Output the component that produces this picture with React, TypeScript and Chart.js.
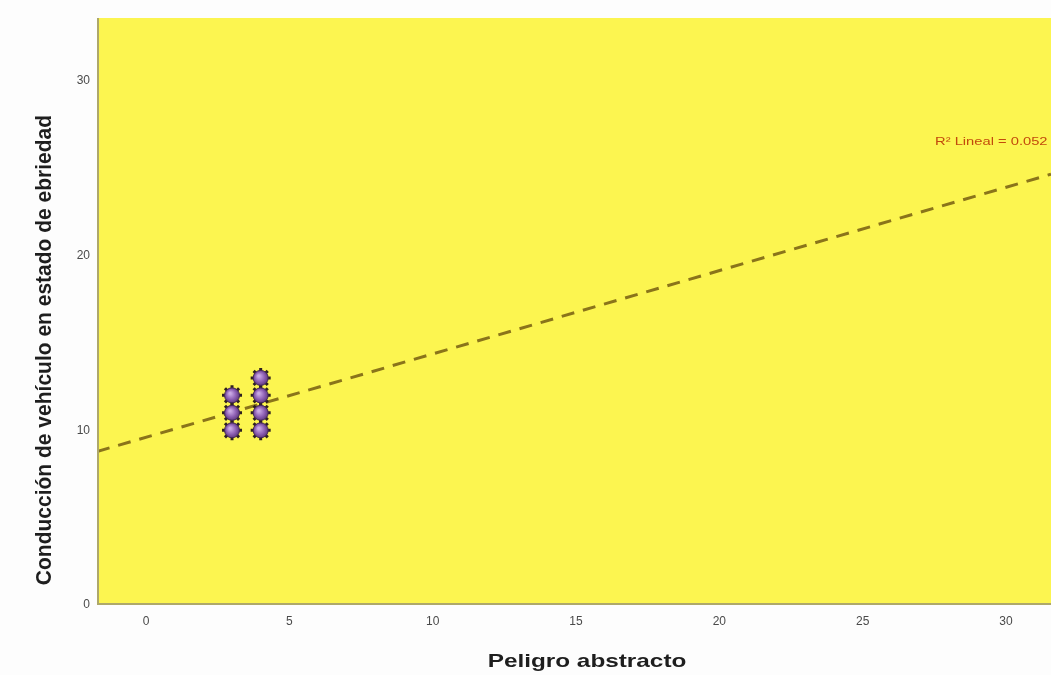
import React, { useEffect, useRef } from "react";
import { Chart, registerables } from "chart.js";

Chart.register(...registerables);

// Observations: Peligro abstracto (x) vs. Conducción de vehículo en estado de ebriedad (y)
const xValues = [3, 3, 3, 4, 4, 4, 4];
const yValues = [10, 11, 12, 10, 11, 12, 13];

// Linear fit shown as a dashed reference line
const fitIntercept = 9.6;
const fitSlope = 0.477;
const fitLabel = "R² Lineal = 0.052";

const xRange = [-1.71, 31.57];
const yRange = [0, 33.6];
const xTickValues = [0, 5, 10, 15, 20, 25, 30];
const yTickValues = [0, 10, 20, 30];

const xTitle = "Peligro abstracto";
const yTitle = "Conducción de vehículo en estado de ebriedad";

const FONT = "Arial, 'Liberation Sans', sans-serif";
const STRETCH = 1.28;

const decorations = {
  id: "decorations",
  beforeDraw(chart: any) {
    const { ctx, chartArea } = chart;
    ctx.save();
    ctx.fillStyle = "#FCF550";
    ctx.fillRect(chartArea.left, chartArea.top, chartArea.right - chartArea.left, chartArea.bottom - chartArea.top);
    ctx.restore();
  },
  afterDatasetsDraw(chart: any) {
    const { ctx, chartArea } = chart;
    const xs = chart.scales.x;
    const ys = chart.scales.y;
    ctx.save();
    // axis frame: left and bottom
    ctx.strokeStyle = "#AEA86A";
    ctx.lineWidth = 2;
    ctx.beginPath();
    ctx.moveTo(chartArea.left + 1, chartArea.top);
    ctx.lineTo(chartArea.left + 1, chartArea.bottom - 1);
    ctx.lineTo(chartArea.right, chartArea.bottom - 1);
    ctx.stroke();

    // fit label
    ctx.fillStyle = "#C24A0C";
    ctx.font = `11.5px ${FONT}`;
    ctx.textAlign = "right";
    ctx.textBaseline = "middle";
    ctx.translate(xs.getPixelForValue(31.45), ys.getPixelForValue(26.5));
    ctx.scale(STRETCH, 1);
    ctx.fillText(fitLabel, 0, 0);
    ctx.restore();

    // axis titles
    ctx.save();
    ctx.fillStyle = "#1E1E1E";
    ctx.textAlign = "center";
    ctx.textBaseline = "middle";
    ctx.font = `bold 19px ${FONT}`;
    ctx.translate(587, 662);
    ctx.scale(STRETCH, 1);
    ctx.fillText(xTitle, 0, 0);
    ctx.restore();

    ctx.save();
    ctx.fillStyle = "#1E1E1E";
    ctx.textAlign = "center";
    ctx.textBaseline = "middle";
    ctx.font = `bold 21px ${FONT}`;
    ctx.translate(45, 350);
    ctx.scale(STRETCH * 0.8, 1);
    ctx.rotate(-Math.PI / 2);
    ctx.fillText(yTitle, 0, 0);
    ctx.restore();
  },
};

export default function App() {
  const canvasRef = useRef<HTMLCanvasElement | null>(null);

  useEffect(() => {
    if (!canvasRef.current) return;
    const points = xValues.map((x, i) => ({ x, y: yValues[i] }));
    const fitLine = xRange.map((x) => ({ x, y: fitIntercept + fitSlope * x }));

    const ballFill = (c: any) => {
      const chart = c.chart;
      const raw = c.raw;
      const plain = "#8E60B4";
      if (!raw || !chart.scales || !chart.scales.x || !chart.scales.y) return plain;
      const px = chart.scales.x.getPixelForValue(raw.x);
      const py = chart.scales.y.getPixelForValue(raw.y);
      if (!Number.isFinite(px) || !Number.isFinite(py)) return plain;
      const g = chart.ctx.createRadialGradient(px - 2, py - 2, 1, px, py, 8);
      g.addColorStop(0, "#C9A8E4");
      g.addColorStop(0.55, "#8E60B4");
      g.addColorStop(1, "#5A3578");
      return g;
    };

    const chart = new Chart(canvasRef.current, {
      type: "scatter",
      data: {
        datasets: [
          {
            type: "line",
            data: fitLine,
            borderColor: "#8A741A",
            borderWidth: 3,
            borderDash: [13, 9],
            pointRadius: 0,
            fill: false,
            order: 3,
          } as any,
          {
            data: points,
            pointStyle: "star",
            pointRadius: 10,
            borderColor: "#2E2020",
            borderWidth: 3,
            backgroundColor: "#2E2020",
            order: 2,
          },
          {
            data: points,
            pointStyle: "circle",
            pointRadius: 7.5,
            borderColor: "#45285A",
            borderWidth: 1,
            backgroundColor: ballFill,
            order: 1,
          },
        ],
      },
      options: {
        animation: false,
        responsive: false,
        maintainAspectRatio: false,
        layout: { autoPadding: false, padding: { top: 18, right: 0, left: 0, bottom: 0 } },
        plugins: {
          legend: { display: false },
          tooltip: { enabled: false },
        },
        scales: {
          x: {
            type: "linear",
            min: xRange[0],
            max: xRange[1],
            grid: { display: false, drawTicks: false },
            border: { display: false },
            afterBuildTicks: (scale: any) => {
              scale.ticks = xTickValues.map((v) => ({ value: v }));
            },
            afterFit: (scale: any) => {
              scale.height = 70;
              scale.paddingLeft = 0;
              scale.paddingRight = 0;
            },
            ticks: {
              color: "#4A4A4A",
              font: { family: FONT, size: 12 },
              padding: 9,
              maxRotation: 0,
            },
          },
          y: {
            type: "linear",
            min: yRange[0],
            max: yRange[1],
            grid: { display: false, drawTicks: false },
            border: { display: false },
            afterBuildTicks: (scale: any) => {
              scale.ticks = yTickValues.map((v) => ({ value: v }));
            },
            afterFit: (scale: any) => {
              scale.width = 97;
              scale.paddingTop = 0;
              scale.paddingBottom = 0;
            },
            ticks: {
              color: "#4A4A4A",
              font: { family: FONT, size: 12 },
              padding: 7,
            },
          },
        },
      },
      plugins: [decorations],
    });
    chart.update();
    return () => chart.destroy();
  }, []);

  return (
    <div style={{ position: "fixed", left: 0, top: 0, width: 1051, height: 675, background: "#FDFDFD" }}>
      <canvas ref={canvasRef} width={1051} height={675} style={{ display: "block" }} />
    </div>
  );
}
